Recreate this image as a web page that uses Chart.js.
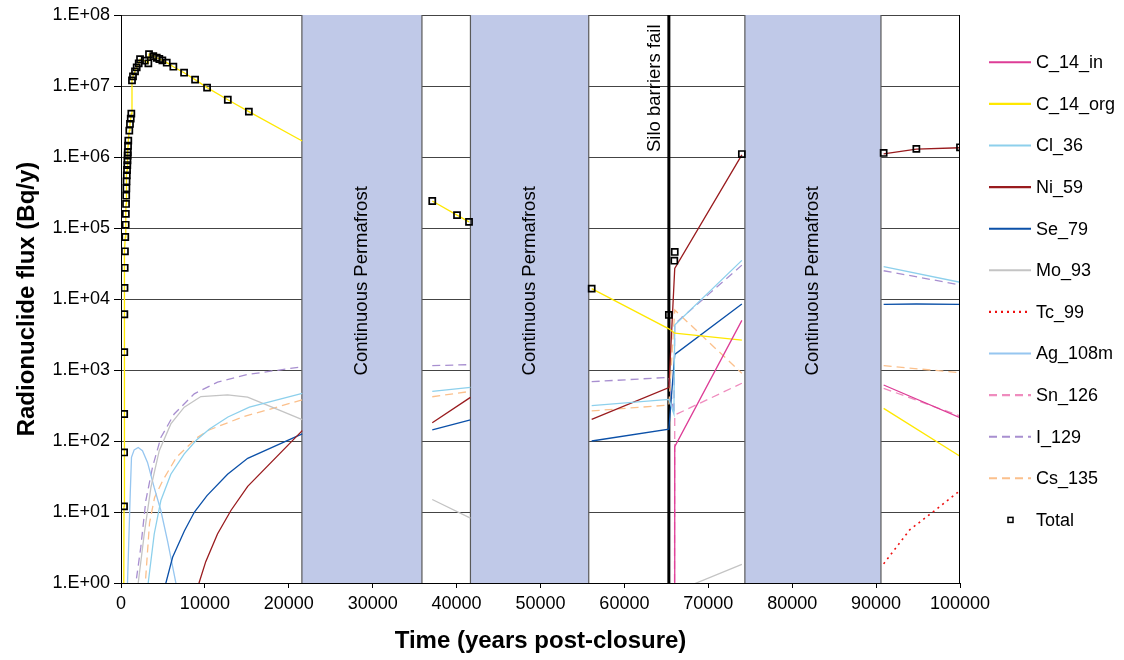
<!DOCTYPE html>
<html>
<head>
<meta charset="utf-8">
<title>Radionuclide flux</title>
<script src="https://cdn.jsdelivr.net/npm/chart.js"></script>
<style>
  html, body { margin: 0; padding: 0; background: #fff; }
  #wrap { width: 1124px; height: 660px; position: relative; }
</style>
</head>
<body>
<div id="wrap"><canvas id="fluxChart"></canvas></div>
<script>
// axes: time in years post-closure, flux in Bq/y (log)
const xTicks = [0, 10000, 20000, 30000, 40000, 50000, 60000, 70000, 80000, 90000, 100000];
const yTicks = [1, 10, 100, 1e3, 1e4, 1e5, 1e6, 1e7, 1e8];
const yTickLabels = ['1.E+00', '1.E+01', '1.E+02', '1.E+03', '1.E+04', '1.E+05', '1.E+06', '1.E+07', '1.E+08'];

// periods of continuous permafrost (no release) and the silo barrier failure
const permafrostBands = [[21560, 35870], [41650, 55750], [74360, 90580]];
const siloFailYear = 65300;

// per nuclide: sample years and flux; null breaks the line inside a permafrost period
const c14inYears = [65950, 66000, 74000, 82000, 90900, 100000];
const c14inFlux = [0.01, 83, 5000, null, 615, 213];

const c14orgYears = [300, 360, 370, 380, 390, 400, 420, 440, 470, 510, 560, 580, 600, 620, 640, 660, 690, 720, 750, 770, 790, 810, 840, 870, 990, 1070, 1160, 1230, 1310, 1430, 1670, 1870, 2110, 2270, 2830, 3260, 3340, 3850, 4260, 4570, 4930, 5450, 6240, 7520, 8830, 10260, 12730, 15240, 21600,
  28000, 37100, 40050, 41480, 48000, 56100, 65300, 66000, 74000, 82000, 90900, 100000];
const c14orgFlux = [0.05, 12, 69, 240, 1780, 6100, 14300, 27500, 47000, 74700, 111000, 158000, 218000, 285000, 363000, 455000, 552000, 656000, 771000, 899000, 1050000, 1160000, 1440000, 1700000, 2350000, 2920000, 3460000, 4070000, 12000000, 13700000, 16100000, 18300000, 20900000, 23800000, 22700000, 20900000, 28000000, 26400000, 25000000, 24000000, 23000000, 21300000, 18700000, 15400000, 12300000, 9500000, 6400000, 4350000, 1680000,
  null, 240000, 152000, 122000, null, 14000, 3800, 3300, 2640, null, 288, 61];

const cl36Years = [3000, 3240, 3960, 4750, 5940, 7540, 9000, 10550, 12750, 15300, 21600, 28000, 37100, 41650, 48000, 56100, 65300, 65900, 66000, 74000, 82000, 90900, 100000];
const cl36Flux = [0.5, 1, 4.9, 14.5, 34, 66, 103, 148, 218, 300, 468, null, 500, 570, null, 314, 386, 240, 4300, 35000, null, 28500, 17200];

const ni59Years = [8800, 9300, 10100, 11500, 13100, 15100, 21600, 28000, 37100, 41650, 48000, 56100, 65300, 66000, 74000, 82000, 90900, 94800, 100000];
const ni59Flux = [0.5, 1, 2, 4.9, 10.5, 23, 140, null, 181, 412, null, 202, 564, 27000, 1070000, null, 1110000, 1290000, 1350000];

const se79Years = [5000, 5350, 6150, 7550, 8750, 10250, 12700, 15100, 21600, 28000, 37100, 41650, 48000, 56100, 65300, 66000, 74000, 82000, 90900, 94800, 100000];
const se79Flux = [0.6, 1, 2.3, 5.4, 10, 17, 34, 57, 126, null, 143, 198, null, 100, 147, 1660, 8500, null, 8400, 8500, 8400];

const mo93Years = [1900, 2050, 2770, 3560, 4560, 5940, 7540, 9520, 12700, 15090, 18000, 21600, 28000, 37100, 41650, 48000, 66000, 74000];
const mo93Flux = [0.5, 1, 4.9, 22, 73, 174, 300, 423, 447, 414, 300, 200, null, 15, 8.2, null, 0.75, 1.83];

const tc99Years = [90900, 94000, 97000, 100000];
const tc99Flux = [1.86, 5.6, 10.5, 20];

const ag108mYears = [700, 775, 1100, 1250, 1570, 2050, 2560, 3160, 3960, 4750, 5550, 6540, 7000];
const ag108mFlux = [0.3, 1, 18, 59, 75, 81, 73, 50, 22, 10.5, 3.9, 1, 0.5];

const sn126Years = [65950, 66000, 74000, 82000, 90900, 100000];
const sn126Flux = [0.01, 232, 650, null, 552, 225];

const i129Years = [1600, 1770, 2360, 2960, 3760, 4750, 6340, 8730, 11510, 15090, 21600, 28000, 37100, 41650, 48000, 56100, 65300, 65900, 66000, 74000, 82000, 90900, 100000];
const i129Flux = [0.5, 1, 3.2, 14.5, 43, 112, 240, 462, 675, 865, 1110, null, 1150, 1190, null, 684, 789, 240, 4450, 30000, null, 25000, 15800];

const cs135Years = [2700, 2900, 3400, 4000, 5000, 6600, 9000, 10500, 14500, 21600, 28000, 37100, 41650, 48000, 56100, 65300, 66000, 74000, 82000, 90900, 100000];
const cs135Flux = [0.5, 1, 7, 16, 28, 59, 110, 143, 218, 380, null, 420, 500, null, 265, 321, 7000, 900, null, 1150, 916];

const totalYears = [360, 370, 380, 390, 400, 420, 440, 470, 510, 560, 580, 600, 620, 640, 660, 690, 720, 750, 770, 790, 810, 840, 870, 990, 1070, 1160, 1230, 1310, 1430, 1670, 1870, 2110, 2270, 2830, 3260, 3340, 3850, 4260, 4570, 4930, 5450, 6240, 7520, 8830, 10260, 12730, 15240,
  37100, 40050, 41480, 56100, 65300, 65950, 66000, 74000, 90900, 94800, 100000];
const totalFlux = [12, 69, 240, 1780, 6100, 14300, 27500, 47000, 74700, 111000, 158000, 218000, 285000, 363000, 455000, 552000, 656000, 771000, 899000, 1050000, 1160000, 1440000, 1700000, 2350000, 2920000, 3460000, 4070000, 12000000, 13700000, 16100000, 18300000, 20900000, 23800000, 22700000, 20900000, 28000000, 26400000, 25000000, 24000000, 23000000, 21300000, 18700000, 15400000, 12300000, 9500000, 6400000, 4350000,
  240000, 152000, 122000, 14000, 5960, 34600, 46000, 1100000, 1140000, 1300000, 1370000];

const FONT = '"Liberation Sans", Arial, Helvetica, sans-serif';

function series(years, flux) {
  return years.map((x, i) => ({ x: x, y: flux[i] }));
}

function line(label, years, flux, color, dash) {
  return {
    label: label,
    data: series(years, flux),
    borderColor: color,
    backgroundColor: color,
    borderWidth: dash && dash[0] < 3 ? 1.6 : 1.3,
    borderDash: dash || [],
    pointRadius: 0,
    tension: 0,
    spanGaps: false
  };
}

// permafrost bands, their labels and the silo failure marker, drawn under the curves
const periodsPlugin = {
  id: 'periods',
  beforeDatasetsDraw(chart) {
    const { ctx, chartArea: a, scales: { x } } = chart;
    ctx.save();
    permafrostBands.forEach(([from, to]) => {
      const x0 = x.getPixelForValue(from);
      const x1 = x.getPixelForValue(to);
      ctx.fillStyle = '#c0c9e8';
      ctx.fillRect(x0, a.top, x1 - x0, a.bottom - a.top);
      ctx.strokeStyle = '#5a5a5a';
      ctx.lineWidth = 1.2;
      ctx.beginPath();
      ctx.moveTo(x0, a.top); ctx.lineTo(x0, a.bottom);
      ctx.moveTo(x1, a.top); ctx.lineTo(x1, a.bottom);
      ctx.stroke();

      ctx.save();
      ctx.translate((x0 + x1) / 2, a.top + (a.bottom - a.top) * 0.468);
      ctx.rotate(-Math.PI / 2);
      ctx.fillStyle = '#000';
      ctx.font = '18.5px ' + FONT;
      ctx.textAlign = 'center';
      ctx.textBaseline = 'middle';
      ctx.fillText('Continuous Permafrost', 0, 0);
      ctx.restore();
    });

    const xs = x.getPixelForValue(siloFailYear);
    ctx.strokeStyle = '#000';
    ctx.lineWidth = 3;
    ctx.beginPath();
    ctx.moveTo(xs, a.top);
    ctx.lineTo(xs, a.bottom);
    ctx.stroke();

    ctx.save();
    ctx.translate(xs - 14, a.top + 137);
    ctx.rotate(-Math.PI / 2);
    ctx.fillStyle = '#000';
    ctx.font = '18.5px ' + FONT;
    ctx.textAlign = 'left';
    ctx.textBaseline = 'middle';
    ctx.fillText('Silo barriers fail', 0, 0);
    ctx.restore();
    ctx.restore();
  },
  afterDatasetsDraw(chart) {
    const { ctx, chartArea: a } = chart;
    ctx.save();
    ctx.strokeStyle = '#000';
    ctx.lineWidth = 1;
    ctx.beginPath();
    ctx.moveTo(Math.round(a.right) - 0.5, a.top);
    ctx.lineTo(Math.round(a.right) - 0.5, a.bottom);
    ctx.stroke();
    ctx.restore();
  }
};

// legend column on the right
const sideLegend = {
  id: 'sideLegend',
  afterDraw(chart) {
    const { ctx, chartArea: a } = chart;
    const x0 = a.right + 29;
    const y0 = a.top + 47.3;
    const rowGap = 41.6;
    ctx.save();
    ctx.font = '18px ' + FONT;
    ctx.textBaseline = 'middle';
    chart.data.datasets.forEach((ds, i) => {
      const y = y0 + i * rowGap;
      if (ds.showLine === false) {
        ctx.strokeStyle = '#000';
        ctx.lineWidth = 1.5;
        ctx.setLineDash([]);
        ctx.strokeRect(x0 + 19, y - 2.5, 5, 5);
      } else {
        ctx.strokeStyle = ds.borderColor;
        ctx.lineWidth = ds.borderWidth + 0.8;
        ctx.setLineDash(ds.borderDash);
        ctx.beginPath();
        ctx.moveTo(x0, y);
        ctx.lineTo(x0 + 42, y);
        ctx.stroke();
      }
      ctx.fillStyle = '#000';
      ctx.fillText(ds.label, x0 + 47, y + 1);
    });
    ctx.restore();
  }
};

const datasets = [
  line('C_14_in', c14inYears, c14inFlux, '#dd3c96'),
  line('C_14_org', c14orgYears, c14orgFlux, '#ffe800'),
  line('Cl_36', cl36Years, cl36Flux, '#8dd0ec'),
  line('Ni_59', ni59Years, ni59Flux, '#991b1e'),
  line('Se_79', se79Years, se79Flux, '#0b50a8'),
  line('Mo_93', mo93Years, mo93Flux, '#c4c4c4'),
  line('Tc_99', tc99Years, tc99Flux, '#ee1111', [2, 4]),
  line('Ag_108m', ag108mYears, ag108mFlux, '#96c6f0'),
  line('Sn_126', sn126Years, sn126Flux, '#ef8cbe', [8, 5]),
  line('I_129', i129Years, i129Flux, '#a88fd0', [8, 5]),
  line('Cs_135', cs135Years, cs135Flux, '#fbc08c', [8, 5]),
  {
    label: 'Total',
    data: series(totalYears, totalFlux),
    showLine: false,
    pointStyle: 'rect',
    pointRadius: 4.3,
    pointBorderWidth: 1.7,
    pointBorderColor: '#000',
    pointBackgroundColor: 'rgba(0,0,0,0)',
    order: -1
  }
];

new Chart(document.getElementById('fluxChart'), {
  type: 'line',
  data: { datasets: datasets },
  plugins: [periodsPlugin, sideLegend],
  options: {
    responsive: true,
    maintainAspectRatio: false,
    animation: false,
    events: [],
    layout: { padding: { top: 15, right: 164, bottom: 0, left: 0 } },
    plugins: {
      legend: { display: false },
      tooltip: { enabled: false }
    },
    scales: {
      x: {
        type: 'linear',
        min: 0,
        max: 100000,
        afterBuildTicks: s => { s.ticks = xTicks.map(v => ({ value: v })); },
        afterFit: s => { s.height = 77; },
        ticks: {
          autoSkip: false,
          maxRotation: 0,
          padding: 5,
          color: '#000',
          font: { family: FONT, size: 18 },
          callback: v => String(v)
        },
        grid: { drawOnChartArea: false, drawTicks: true, tickLength: 5, color: '#000' },
        border: { color: '#000', width: 1 },
        title: {
          display: true,
          text: 'Time (years post-closure)',
          color: '#000',
          font: { family: FONT, size: 24, weight: 'bold' },
          padding: { top: 0, bottom: 4 }
        }
      },
      y: {
        type: 'logarithmic',
        min: 1,
        max: 1e8,
        afterBuildTicks: s => { s.ticks = yTicks.map(v => ({ value: v })); },
        afterFit: s => { s.width = 121; },
        ticks: {
          padding: 4,
          color: '#000',
          font: { family: FONT, size: 18 },
          callback: (v, i) => yTickLabels[i]
        },
        grid: { color: '#444', lineWidth: 1, tickLength: 7, tickColor: '#000' },
        border: { color: '#000', width: 1 },
        title: {
          display: true,
          text: 'Radionuclide flux (Bq/y)',
          color: '#000',
          font: { family: FONT, size: 24, weight: 'bold' },
          padding: { top: 13, bottom: 0 }
        }
      }
    }
  }
});
</script>
</body>
</html>
